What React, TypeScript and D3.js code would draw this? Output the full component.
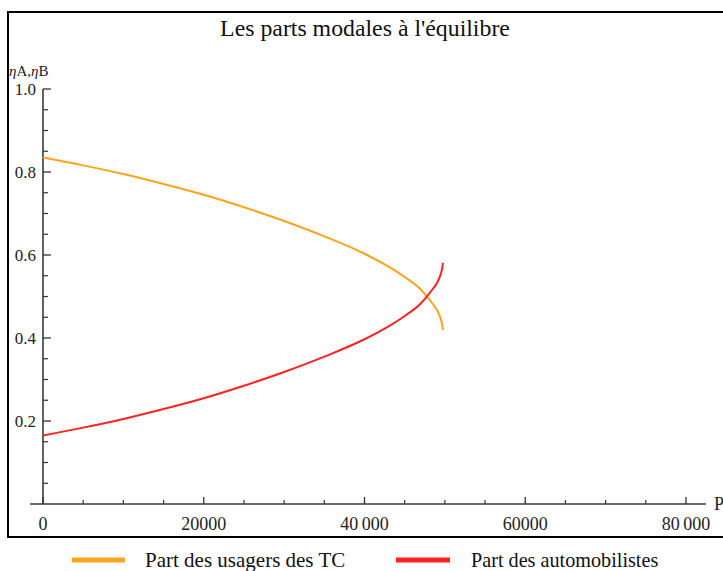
import React from "react";
import * as d3 from "d3";

const xValues = [0, 5000, 10000, 15000, 20000, 25000, 30000, 35000, 40000, 43000, 45000, 47000, 47800, 48500, 49000, 49400, 49600, 49700, 49750];
const tcShare = [0.835, 0.816, 0.795, 0.771, 0.745, 0.715, 0.682, 0.645, 0.603, 0.572, 0.547, 0.517, 0.499, 0.482, 0.468, 0.451, 0.438, 0.428, 0.419];
const carShare = [0.165, 0.184, 0.205, 0.229, 0.255, 0.285, 0.318, 0.355, 0.397, 0.428, 0.453, 0.483, 0.501, 0.518, 0.532, 0.549, 0.562, 0.572, 0.581];
const xTicks = [0, 20000, 40000, 60000, 80000];
const xTickLabels = ["0", "20000", "40\u2009000", "60000", "80\u2009000"];
const yTicks = [0.2, 0.4, 0.6, 0.8, 1.0];
const yTickLabels = ["0.2", "0.4", "0.6", "0.8", "1.0"];
const seriesNames = ["Part des usagers des TC", "Part des automobilistes"];
const seriesColors = ["#ffa31a", "#ff2222"];
const title = "Les parts modales à l'équilibre";

const W = 723;
const H = 571;
const FONT = "'Liberation Serif', 'Times New Roman', serif";

export default function App() {
  const x = d3.scaleLinear().domain([0, 80000]).range([43, 686]);
  const y = d3.scaleLinear().domain([0, 1]).range([504, 89]);
  const line = d3
    .line<number>()
    .x((_, i) => x(xValues[i]))
    .y((d) => y(d))
    .curve(d3.curveMonotoneX);

  const xMinor = d3.range(5000, 85000, 5000).filter((v) => v % 20000 !== 0);
  const yMinor = d3.range(0.05, 1.0, 0.05).filter((v) => Math.abs(v * 5 - Math.round(v * 5)) > 1e-6);
  const axisColor = "#3a3a3a";
  const tickColor = "#333";

  return (
    <svg
      width={W}
      height={H}
      style={{ position: "absolute", left: 0, top: 0, background: "#fff" }}
      fontFamily={FONT}
    >
      <rect x={0} y={0} width={W} height={H} fill="#fff" />
      {/* frame */}
      <rect x={8} y={12} width={W + 10} height={525} fill="none" stroke="#000" strokeWidth={2} />
      {/* title */}
      <text x={365} y={36} textAnchor="middle" fontSize={23.8} fill="#111">
        {title}
      </text>
      {/* y axis label */}
      <text x={9} y={76} fontSize={15} fill="#222">
        <tspan fontStyle="italic">η</tspan>
        <tspan>A,</tspan>
        <tspan fontStyle="italic">η</tspan>
        <tspan>B</tspan>
      </text>
      {/* x axis label (clipped) */}
      <text x={714} y={510} fontSize={18} fill="#222">
        P
      </text>
      {/* axes */}
      <line x1={30} x2={706} y1={y(0)} y2={y(0)} stroke={axisColor} strokeWidth={1.6} />
      <line x1={x(0)} x2={x(0)} y1={y(0)} y2={y(1)} stroke={axisColor} strokeWidth={1.6} />
      {/* x ticks */}
      {xTicks.map((t) => (
        <line key={"xt" + t} x1={x(t)} x2={x(t)} y1={y(0)} y2={y(0) - 7} stroke={tickColor} strokeWidth={1.3} />
      ))}
      {xMinor.map((t) => (
        <line key={"xm" + t} x1={x(t)} x2={x(t)} y1={y(0)} y2={y(0) - 4} stroke={tickColor} strokeWidth={1.2} />
      ))}
      {xTicks.map((t, i) => (
        <text key={"xl" + t} x={x(t)} y={530} textAnchor="middle" fontSize={18} fill="#222">
          {xTickLabels[i]}
        </text>
      ))}
      {/* y ticks */}
      {yTicks.map((t) => (
        <line key={"yt" + t} x1={x(0)} x2={x(0) + 8} y1={y(t)} y2={y(t)} stroke={tickColor} strokeWidth={1.3} />
      ))}
      {yMinor.map((t) => (
        <line key={"ym" + t} x1={x(0)} x2={x(0) + 5} y1={y(t)} y2={y(t)} stroke={tickColor} strokeWidth={1.2} />
      ))}
      {yTicks.map((t, i) => (
        <text key={"yl" + t} x={36} y={y(t) + 6} textAnchor="end" fontSize={17} fill="#222">
          {yTickLabels[i]}
        </text>
      ))}
      {/* curves */}
      <path d={line(tcShare) || ""} fill="none" stroke={seriesColors[0]} strokeWidth={2} />
      <path d={line(carShare) || ""} fill="none" stroke={seriesColors[1]} strokeWidth={2} />
      {/* legend */}
      <line x1={72} x2={125} y1={560} y2={560} stroke={seriesColors[0]} strokeWidth={5} />
      <text x={145} y={567} fontSize={21} fill="#111">
        {seriesNames[0]}
      </text>
      <line x1={396} x2={450} y1={560} y2={560} stroke={seriesColors[1]} strokeWidth={5} />
      <text x={471} y={567} fontSize={20.2} fill="#111">
        {seriesNames[1]}
      </text>
    </svg>
  );
}
